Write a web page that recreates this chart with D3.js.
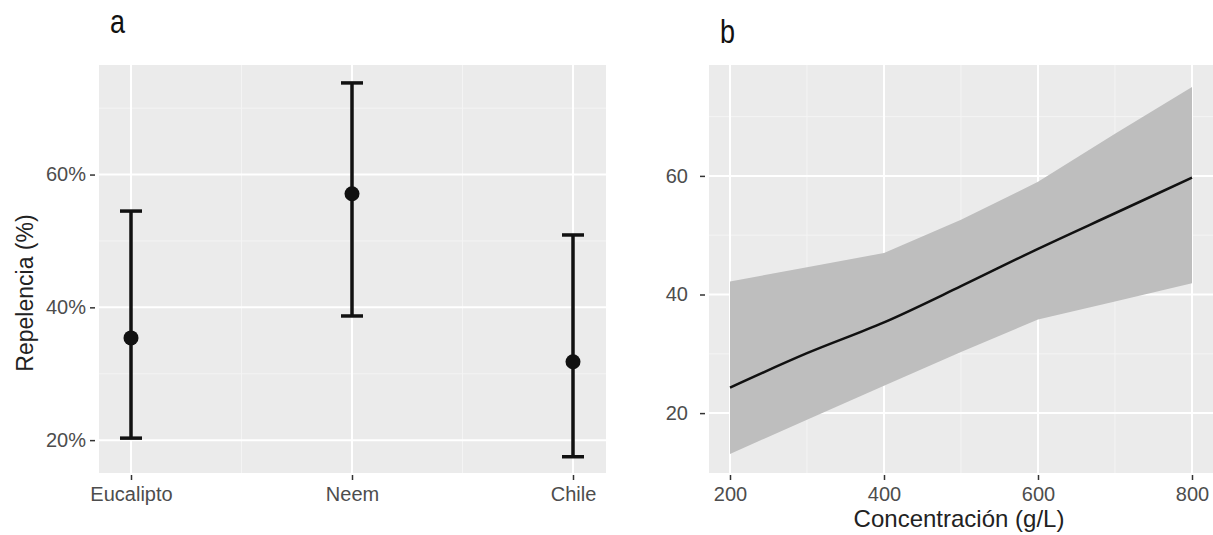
<!DOCTYPE html>
<html>
<head>
<meta charset="utf-8">
<script src="https://cdn.jsdelivr.net/npm/d3@7"></script>
<style>
  html, body { margin: 0; padding: 0; background: #ffffff; }
  svg { display: block; font-family: "Liberation Sans", Arial, Helvetica, sans-serif; }
</style>
</head>
<body>
<svg id="chart" width="1213" height="535"></svg>
<script>
// ---------- Panel a data ----------
const categories = ["Eucalipto", "Neem", "Chile"];
const meanVals  = [35.4, 57.1, 31.8];
const lowerVals = [20.3, 38.7, 17.5];
const upperVals = [54.5, 73.8, 50.9];
const aYTicks = [20, 40, 60];
const aYMinor = [30, 50, 70];

// ---------- Panel b data ----------
const conc      = [200, 300, 400, 500, 600, 700, 800];
const fitVals   = [24.3, 30.1, 35.3, 41.4, 47.7, 53.7, 59.7];
const bandLower = [13.1, 18.9, 24.6, 30.3, 35.8, 38.8, 41.9];
const bandUpper = [42.2, 44.6, 47.0, 52.6, 59.0, 67.1, 75.0];
const bXTicks = [200, 400, 600, 800];
const bXMinor = [300, 500, 700];
const bYTicks = [20, 40, 60];
const bYMinor = [30, 50, 70];

const svg = d3.select("#chart");
const panelBg = "#ebebeb";
const tickCol = "#333333";
const labCol = "#4d4d4d";

// ================= Panel a =================
const aL = 99, aR = 606, aT = 65, aB = 473;
const ax = d3.scalePoint().domain(categories).range([131, 573]);
const ay = d3.scaleLinear().domain([15.05, 76.5]).range([aB, aT]);

const ga = svg.append("g");
ga.append("rect").attr("x", aL).attr("y", aT).attr("width", aR - aL).attr("height", aB - aT).attr("fill", panelBg);

// minor gridlines
ga.selectAll(".aminy").data(aYMinor).join("line")
  .attr("x1", aL).attr("x2", aR).attr("y1", d => ay(d)).attr("y2", d => ay(d))
  .attr("stroke", "#f4f4f4").attr("stroke-width", 1);
const aMidX = [ (ax("Eucalipto") + ax("Neem")) / 2, (ax("Neem") + ax("Chile")) / 2 ];
ga.selectAll(".aminx").data(aMidX).join("line")
  .attr("x1", d => d).attr("x2", d => d).attr("y1", aT).attr("y2", aB)
  .attr("stroke", "#f4f4f4").attr("stroke-width", 1);
// major gridlines
ga.selectAll(".amajy").data(aYTicks).join("line")
  .attr("x1", aL).attr("x2", aR).attr("y1", d => ay(d)).attr("y2", d => ay(d))
  .attr("stroke", "#ffffff").attr("stroke-width", 2);
ga.selectAll(".amajx").data(categories).join("line")
  .attr("x1", d => ax(d)).attr("x2", d => ax(d)).attr("y1", aT).attr("y2", aB)
  .attr("stroke", "#ffffff").attr("stroke-width", 2);

// error bars
const aData = categories.map((c, i) => ({ c, m: meanVals[i], lo: lowerVals[i], hi: upperVals[i] }));
const eb = ga.selectAll(".eb").data(aData).join("g");
eb.append("line").attr("x1", d => ax(d.c)).attr("x2", d => ax(d.c))
  .attr("y1", d => ay(d.lo)).attr("y2", d => ay(d.hi))
  .attr("stroke", "#111").attr("stroke-width", 3.5);
eb.append("line").attr("x1", d => ax(d.c) - 11).attr("x2", d => ax(d.c) + 11)
  .attr("y1", d => ay(d.hi)).attr("y2", d => ay(d.hi))
  .attr("stroke", "#111").attr("stroke-width", 3.5);
eb.append("line").attr("x1", d => ax(d.c) - 11).attr("x2", d => ax(d.c) + 11)
  .attr("y1", d => ay(d.lo)).attr("y2", d => ay(d.lo))
  .attr("stroke", "#111").attr("stroke-width", 3.5);
eb.append("circle").attr("cx", d => ax(d.c)).attr("cy", d => ay(d.m)).attr("r", 7.5).attr("fill", "#111");

// axes
const aYAxis = ga.append("g").attr("transform", `translate(${aL - 4},0)`)
  .call(d3.axisLeft(ay).tickValues(aYTicks).tickFormat(d => d + "%").tickSize(5).tickPadding(4));
const aXAxis = ga.append("g").attr("transform", `translate(0,${aB + 2})`)
  .call(d3.axisBottom(ax).tickSize(5).tickPadding(7));
[aYAxis, aXAxis].forEach(g => {
  g.select(".domain").remove();
  g.selectAll(".tick line").attr("stroke", tickCol).attr("stroke-width", 1.5);
  g.selectAll(".tick text").attr("fill", labCol).style("font-size", "20px");
});

ga.append("text").attr("transform", "translate(33,293) rotate(-90)")
  .attr("text-anchor", "middle").attr("fill", "#222").style("font-size", "23px").text("Repelencia (%)");
ga.append("text").attr("transform", "translate(110,33) scale(1,1.22)")
  .attr("fill", "#111").style("font-size", "27px").text("a");

// ================= Panel b =================
const bL = 709, bR = 1213, bT = 65, bB = 473;
const bx = d3.scaleLinear().domain([200, 800]).range([730, 1192]);
const by = d3.scaleLinear().domain([9.9, 78.7]).range([bB, bT]);

const gb = svg.append("g");
gb.append("rect").attr("x", bL).attr("y", bT).attr("width", bR - bL).attr("height", bB - bT).attr("fill", panelBg);

gb.selectAll(".bminy").data(bYMinor).join("line")
  .attr("x1", bL).attr("x2", bR).attr("y1", d => by(d)).attr("y2", d => by(d))
  .attr("stroke", "#f4f4f4").attr("stroke-width", 1);
gb.selectAll(".bminx").data(bXMinor).join("line")
  .attr("x1", d => bx(d)).attr("x2", d => bx(d)).attr("y1", bT).attr("y2", bB)
  .attr("stroke", "#f4f4f4").attr("stroke-width", 1);
gb.selectAll(".bmajy").data(bYTicks).join("line")
  .attr("x1", bL).attr("x2", bR).attr("y1", d => by(d)).attr("y2", d => by(d))
  .attr("stroke", "#ffffff").attr("stroke-width", 2);
gb.selectAll(".bmajx").data(bXTicks).join("line")
  .attr("x1", d => bx(d)).attr("x2", d => bx(d)).attr("y1", bT).attr("y2", bB)
  .attr("stroke", "#ffffff").attr("stroke-width", 2);

const bData = conc.map((c, i) => ({ c, f: fitVals[i], lo: bandLower[i], hi: bandUpper[i] }));
gb.append("path").datum(bData)
  .attr("d", d3.area().x(d => bx(d.c)).y0(d => by(d.lo)).y1(d => by(d.hi)))
  .attr("fill", "#bebebe");
gb.append("path").datum(bData)
  .attr("d", d3.line().x(d => bx(d.c)).y(d => by(d.f)).curve(d3.curveMonotoneX))
  .attr("fill", "none").attr("stroke", "#111").attr("stroke-width", 2.5);

const bYAxis = gb.append("g").attr("transform", `translate(${bL - 4},0)`)
  .call(d3.axisLeft(by).tickValues(bYTicks).tickFormat(d3.format("d")).tickSize(5).tickPadding(12));
const bXAxis = gb.append("g").attr("transform", `translate(0,${bB + 2})`)
  .call(d3.axisBottom(bx).tickValues(bXTicks).tickFormat(d3.format("d")).tickSize(5).tickPadding(7));
[bYAxis, bXAxis].forEach(g => {
  g.select(".domain").remove();
  g.selectAll(".tick line").attr("stroke", tickCol).attr("stroke-width", 1.5);
  g.selectAll(".tick text").attr("fill", labCol).style("font-size", "20px");
});

gb.append("text").attr("x", 959).attr("y", 527).attr("text-anchor", "middle")
  .attr("fill", "#222").style("font-size", "24px").text("Concentración (g/L)");
gb.append("text").attr("transform", "translate(720,43) scale(1,1.22)")
  .attr("fill", "#111").style("font-size", "27px").text("b");
</script>
</body>
</html>
